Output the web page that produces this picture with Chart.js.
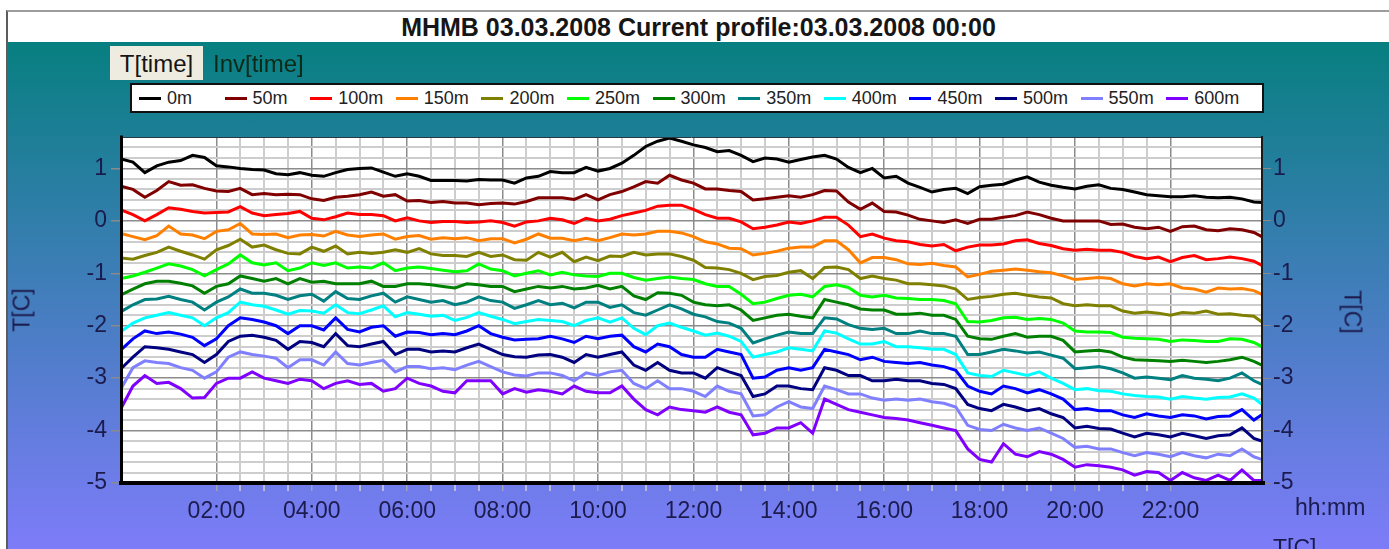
<!DOCTYPE html>
<html>
<head>
<meta charset="utf-8">
<title>MHMB 03.03.2008 Current profile</title>
<script src="https://cdn.jsdelivr.net/npm/chart.js@4.4.1/dist/chart.umd.min.js"></script>
<style>
  html, body { margin: 0; padding: 0; background: #ffffff; }
  body { width: 1389px; height: 549px; position: relative; overflow: hidden;
         font-family: "Liberation Sans", Arial, sans-serif; }
  #panel { position: absolute; left: 6px; top: 10px; right: 0; bottom: 0;
           border-left: 2px solid #5c5c5c; border-top: 2px solid #9c9c9c;
           background: linear-gradient(180deg, #077f80 0px, #077f80 30px, #7e7cf9 539px); }
  #titlebar { position: absolute; left: 0; right: 0; top: 0; height: 30px; background: #ffffff;
              text-align: center; font-weight: bold; font-size: 25px; line-height: 31px; color: #161616; }
  #chart { position: absolute; left: 0; top: 0; }
  .abs { position: absolute; white-space: nowrap; }
  #tabT { left: 110px; top: 46px; width: 93px; height: 34px; background: #eeebe1;
          font-size: 24px; line-height: 36px; text-align: center; color: #151515; }
  #tabInv { left: 213px; top: 46px; height: 34px; font-size: 24px; line-height: 36px; color: #0e2a16; }
  #legend { left: 130px; top: 83px; width: 1130px; height: 26px; background: #ffffff;
            border: 2px solid #111111; }
  .item { position: absolute; top: 0; height: 26px; }
  .item i { position: absolute; left: 0; top: 12px; width: 22px; height: 3px; }
  .item span { position: absolute; left: 28px; top: 0; font-size: 18px; line-height: 27px; color: #222222; }
  .axtitle { font-size: 23px; color: #1b1b4d; }
</style>
</head>
<body>
<div id="panel"><div id="titlebar">MHMB 03.03.2008 Current profile:03.03.2008 00:00</div></div>
<canvas id="chart" width="1389" height="549"></canvas>
<div id="tabT" class="abs">T[time]</div>
<div id="tabInv" class="abs">Inv[time]</div>
<div id="legend" class="abs"></div>
<div class="abs axtitle" style="left:22px; top:310px; transform: translate(-50%,-50%) rotate(-90deg);">T[C]</div>
<div class="abs axtitle" style="left:1352px; top:312px; transform: translate(-50%,-50%) rotate(90deg);">T[C]</div>
<div class="abs axtitle" style="left:1295px; top:494px;">hh:mm</div>
<div class="abs axtitle" style="left:1273px; top:535px;">T[C]</div>

<script>
// Sample times (15-minute steps, last sample 23:55)
const timeLabels = [
  "00:00","00:15","00:30","00:45","01:00","01:15","01:30","01:45",
  "02:00","02:15","02:30","02:45","03:00","03:15","03:30","03:45",
  "04:00","04:15","04:30","04:45","05:00","05:15","05:30","05:45",
  "06:00","06:15","06:30","06:45","07:00","07:15","07:30","07:45",
  "08:00","08:15","08:30","08:45","09:00","09:15","09:30","09:45",
  "10:00","10:15","10:30","10:45","11:00","11:15","11:30","11:45",
  "12:00","12:15","12:30","12:45","13:00","13:15","13:30","13:45",
  "14:00","14:15","14:30","14:45","15:00","15:15","15:30","15:45",
  "16:00","16:15","16:30","16:45","17:00","17:15","17:30","17:45",
  "18:00","18:15","18:30","18:45","19:00","19:15","19:30","19:45",
  "20:00","20:15","20:30","20:45","21:00","21:15","21:30","21:45",
  "22:00","22:15","22:30","22:45","23:00","23:15","23:30","23:45","23:55"
];

const depthNames = ["0m","50m","100m","150m","200m","250m","300m","350m","400m","450m","500m","550m","600m"];
const depthColors = ["#000000","#800000","#ff0000","#ff8000","#808000","#00ff00","#008000",
                     "#008080","#00ffff","#0000ff","#000080","#8080ff","#8000ff"];

// Temperature [C] per height level
const t0m = [
  1.18,1.12,0.92,1.05,1.12,1.15,1.25,1.21, 1.05,1.03,1.00,0.98,0.97,0.90,0.88,0.92,
  0.87,0.85,0.92,0.98,1.00,1.01,0.93,0.85, 0.90,0.85,0.77,0.77,0.77,0.76,0.79,0.78,
  0.78,0.72,0.82,0.85,0.94,0.92,0.92,1.02, 0.95,1.00,1.10,1.25,1.42,1.52,1.58,1.52,
  1.45,1.40,1.32,1.34,1.25,1.13,1.20,1.18, 1.12,1.17,1.22,1.25,1.18,1.02,0.92,1.00,
  0.82,0.85,0.72,0.64,0.55,0.60,0.62,0.52, 0.65,0.68,0.70,0.78,0.84,0.74,0.68,0.64,
  0.61,0.66,0.69,0.62,0.60,0.55,0.50,0.48, 0.46,0.46,0.48,0.45,0.44,0.45,0.42,0.36,0.35
];
const t50m = [
  0.66,0.60,0.45,0.58,0.75,0.68,0.69,0.62, 0.57,0.56,0.62,0.50,0.52,0.50,0.51,0.50,
  0.42,0.39,0.45,0.47,0.50,0.55,0.47,0.50, 0.38,0.39,0.35,0.37,0.34,0.34,0.31,0.33,
  0.34,0.32,0.37,0.44,0.44,0.44,0.41,0.50, 0.40,0.50,0.56,0.65,0.75,0.72,0.87,0.78,
  0.72,0.61,0.61,0.58,0.56,0.40,0.42,0.45, 0.48,0.45,0.50,0.58,0.57,0.36,0.22,0.34,
  0.18,0.17,0.11,0.03,0.00,-0.03,0.02,-0.05, 0.03,0.03,0.07,0.10,0.17,0.12,0.05,0.00,
  0.00,0.00,0.00,-0.07,-0.06,-0.12,-0.15,-0.12, -0.20,-0.11,-0.10,-0.17,-0.19,-0.15,-0.17,-0.22,-0.30
];
const t100m = [
  0.21,0.12,0.00,0.12,0.25,0.22,0.18,0.15, 0.16,0.17,0.27,0.15,0.10,0.12,0.14,0.18,
  0.05,0.02,0.08,0.15,0.12,0.12,0.10,0.00, 0.06,0.00,-0.03,-0.01,-0.01,-0.03,-0.02,0.00,
  -0.03,-0.10,-0.02,0.00,0.05,0.02,-0.05,0.05, 0.00,0.03,0.10,0.15,0.20,0.28,0.30,0.30,
  0.22,0.12,0.05,0.05,-0.02,-0.15,-0.12,-0.08, -0.02,-0.05,0.00,0.07,0.07,-0.08,-0.30,-0.25,
  -0.33,-0.38,-0.40,-0.45,-0.48,-0.45,-0.57,-0.50, -0.46,-0.46,-0.44,-0.38,-0.36,-0.43,-0.47,-0.53,
  -0.56,-0.54,-0.56,-0.56,-0.60,-0.68,-0.72,-0.69, -0.78,-0.70,-0.66,-0.74,-0.72,-0.69,-0.72,-0.77,-0.85
];
const t150m = [
  -0.24,-0.30,-0.36,-0.28,-0.10,-0.25,-0.27,-0.34, -0.20,-0.17,-0.05,-0.25,-0.26,-0.25,-0.32,-0.27,
  -0.26,-0.29,-0.20,-0.27,-0.30,-0.27,-0.25,-0.35, -0.30,-0.28,-0.35,-0.32,-0.34,-0.32,-0.38,-0.34,
  -0.34,-0.42,-0.35,-0.25,-0.33,-0.33,-0.38,-0.33, -0.38,-0.32,-0.25,-0.27,-0.25,-0.20,-0.20,-0.23,
  -0.30,-0.40,-0.44,-0.52,-0.53,-0.65,-0.62,-0.58, -0.52,-0.50,-0.50,-0.38,-0.38,-0.55,-0.80,-0.70,
  -0.70,-0.74,-0.82,-0.83,-0.81,-0.85,-0.88,-1.07, -1.02,-0.96,-0.94,-0.92,-0.94,-0.97,-0.99,-1.05,
  -1.12,-1.10,-1.08,-1.10,-1.20,-1.24,-1.20,-1.22, -1.20,-1.28,-1.30,-1.36,-1.28,-1.30,-1.29,-1.33,-1.40
];
const t200m = [
  -0.71,-0.73,-0.66,-0.60,-0.50,-0.58,-0.65,-0.73, -0.55,-0.47,-0.35,-0.50,-0.46,-0.55,-0.62,-0.63,
  -0.50,-0.58,-0.48,-0.63,-0.60,-0.62,-0.60,-0.55, -0.60,-0.53,-0.63,-0.66,-0.66,-0.68,-0.60,-0.68,
  -0.65,-0.74,-0.75,-0.60,-0.69,-0.60,-0.78,-0.69, -0.76,-0.67,-0.68,-0.60,-0.65,-0.63,-0.63,-0.68,
  -0.75,-0.89,-0.90,-0.93,-1.00,-1.12,-1.06,-1.04, -0.98,-0.95,-1.10,-0.89,-0.88,-0.93,-1.10,-1.05,
  -1.10,-1.13,-1.20,-1.20,-1.22,-1.24,-1.30,-1.50, -1.46,-1.44,-1.40,-1.38,-1.42,-1.45,-1.47,-1.58,
  -1.62,-1.60,-1.62,-1.62,-1.72,-1.76,-1.74,-1.76, -1.80,-1.75,-1.76,-1.72,-1.78,-1.77,-1.80,-1.82,-1.93
];
const t250m = [
  -1.10,-1.05,-0.98,-0.90,-0.82,-0.86,-0.93,-1.05, -0.93,-0.82,-0.65,-0.80,-0.84,-0.80,-0.95,-0.90,
  -0.80,-0.85,-0.80,-0.90,-0.88,-0.90,-0.80,-0.95, -0.90,-0.88,-0.91,-0.94,-0.97,-0.95,-0.82,-0.92,
  -0.95,-1.05,-1.00,-0.95,-1.03,-0.98,-1.03,-1.05, -1.06,-1.00,-1.00,-1.08,-1.13,-1.10,-1.07,-1.10,
  -1.12,-1.20,-1.25,-1.25,-1.40,-1.58,-1.55,-1.48, -1.42,-1.40,-1.45,-1.25,-1.22,-1.27,-1.42,-1.45,
  -1.42,-1.47,-1.48,-1.50,-1.50,-1.52,-1.58,-1.92, -1.93,-1.90,-1.85,-1.84,-1.88,-1.86,-1.88,-1.95,
  -2.10,-2.12,-2.12,-2.13,-2.22,-2.24,-2.25,-2.26, -2.30,-2.27,-2.28,-2.30,-2.30,-2.25,-2.26,-2.32,-2.40
];
const t300m = [
  -1.41,-1.30,-1.20,-1.15,-1.15,-1.19,-1.24,-1.38, -1.25,-1.20,-1.05,-1.10,-1.15,-1.10,-1.20,-1.10,
  -1.17,-1.15,-1.20,-1.20,-1.20,-1.15,-1.25,-1.25, -1.20,-1.20,-1.22,-1.25,-1.28,-1.20,-1.22,-1.25,
  -1.25,-1.35,-1.30,-1.25,-1.28,-1.25,-1.30,-1.28, -1.23,-1.30,-1.25,-1.43,-1.50,-1.37,-1.38,-1.42,
  -1.55,-1.60,-1.62,-1.60,-1.70,-1.90,-1.85,-1.80, -1.78,-1.82,-1.85,-1.50,-1.55,-1.60,-1.68,-1.70,
  -1.70,-1.78,-1.78,-1.76,-1.80,-1.80,-1.88,-2.20, -2.25,-2.26,-2.20,-2.15,-2.22,-2.20,-2.20,-2.28,
  -2.50,-2.48,-2.47,-2.50,-2.60,-2.65,-2.66,-2.67, -2.68,-2.66,-2.68,-2.70,-2.68,-2.65,-2.60,-2.68,-2.75
];
const t350m = [
  -1.73,-1.60,-1.50,-1.49,-1.44,-1.50,-1.55,-1.70, -1.55,-1.45,-1.30,-1.38,-1.38,-1.42,-1.50,-1.43,
  -1.40,-1.53,-1.35,-1.48,-1.50,-1.43,-1.38,-1.55, -1.45,-1.50,-1.55,-1.52,-1.60,-1.55,-1.45,-1.52,
  -1.55,-1.67,-1.60,-1.52,-1.60,-1.57,-1.66,-1.55, -1.55,-1.65,-1.60,-1.75,-1.80,-1.70,-1.60,-1.68,
  -1.78,-1.83,-1.92,-1.95,-2.05,-2.33,-2.25,-2.18, -2.12,-2.15,-2.15,-1.85,-1.87,-1.98,-2.05,-2.07,
  -2.05,-2.15,-2.15,-2.10,-2.15,-2.15,-2.20,-2.55, -2.55,-2.50,-2.45,-2.48,-2.52,-2.50,-2.56,-2.62,
  -2.82,-2.80,-2.78,-2.82,-2.90,-3.00,-2.98,-3.00, -3.03,-2.95,-3.00,-3.02,-3.05,-3.00,-2.90,-3.05,-3.12
];
const t400m = [
  -2.11,-1.95,-1.85,-1.80,-1.75,-1.80,-1.85,-2.00, -1.85,-1.75,-1.55,-1.60,-1.63,-1.70,-1.78,-1.71,
  -1.72,-1.76,-1.60,-1.75,-1.77,-1.70,-1.62,-1.83, -1.75,-1.78,-1.82,-1.80,-1.90,-1.84,-1.75,-1.82,
  -1.88,-1.96,-1.92,-1.88,-1.90,-1.92,-2.00,-1.90, -1.85,-1.93,-1.85,-2.05,-2.17,-2.00,-1.95,-2.03,
  -2.10,-2.18,-2.14,-2.20,-2.30,-2.60,-2.55,-2.50, -2.42,-2.45,-2.48,-2.10,-2.14,-2.25,-2.35,-2.35,
  -2.30,-2.40,-2.40,-2.42,-2.45,-2.45,-2.55,-2.90, -2.95,-2.97,-2.85,-2.90,-2.95,-2.88,-3.00,-3.10,
  -3.22,-3.20,-3.24,-3.25,-3.30,-3.33,-3.35,-3.36, -3.40,-3.35,-3.38,-3.40,-3.37,-3.36,-3.30,-3.38,-3.50
];
const t450m = [
  -2.46,-2.25,-2.10,-2.15,-2.12,-2.16,-2.22,-2.38, -2.25,-2.00,-1.85,-1.88,-1.93,-2.00,-2.15,-2.00,
  -2.00,-2.08,-1.85,-2.07,-2.12,-2.03,-2.00,-2.20, -2.12,-2.13,-2.17,-2.15,-2.17,-2.10,-2.00,-2.15,
  -2.22,-2.27,-2.26,-2.25,-2.20,-2.25,-2.32,-2.20, -2.25,-2.20,-2.18,-2.40,-2.50,-2.35,-2.40,-2.55,
  -2.60,-2.60,-2.45,-2.50,-2.55,-3.00,-2.98,-2.85, -2.80,-2.85,-2.80,-2.45,-2.50,-2.55,-2.65,-2.60,
  -2.68,-2.70,-2.72,-2.70,-2.75,-2.78,-2.85,-3.15, -3.25,-3.30,-3.15,-3.20,-3.28,-3.22,-3.30,-3.40,
  -3.60,-3.58,-3.62,-3.62,-3.70,-3.75,-3.68,-3.72, -3.75,-3.70,-3.72,-3.78,-3.73,-3.72,-3.60,-3.80,-3.70
];
const t500m = [
  -2.82,-2.60,-2.40,-2.42,-2.45,-2.50,-2.55,-2.70, -2.55,-2.30,-2.20,-2.18,-2.22,-2.28,-2.45,-2.30,
  -2.32,-2.40,-2.15,-2.38,-2.40,-2.35,-2.30,-2.55, -2.45,-2.45,-2.50,-2.48,-2.50,-2.42,-2.35,-2.45,
  -2.55,-2.59,-2.60,-2.56,-2.55,-2.60,-2.70,-2.55, -2.60,-2.55,-2.50,-2.75,-2.85,-2.70,-2.85,-2.90,
  -2.90,-3.00,-2.80,-2.88,-2.95,-3.35,-3.30,-3.15, -3.15,-3.20,-3.22,-2.80,-2.85,-2.95,-2.95,-3.05,
  -3.05,-3.02,-3.05,-3.05,-3.10,-3.12,-3.20,-3.50, -3.58,-3.62,-3.50,-3.55,-3.62,-3.58,-3.68,-3.75,
  -3.95,-3.92,-3.96,-3.97,-4.05,-4.12,-4.05,-4.08, -4.12,-4.05,-4.10,-4.15,-4.10,-4.08,-3.95,-4.15,-4.20
];
const t550m = [
  -3.20,-2.80,-2.67,-2.70,-2.72,-2.80,-2.85,-3.00, -2.88,-2.60,-2.50,-2.55,-2.58,-2.62,-2.80,-2.65,
  -2.65,-2.75,-2.50,-2.72,-2.75,-2.70,-2.66,-2.88, -2.78,-2.78,-2.82,-2.80,-2.84,-2.75,-2.68,-2.78,
  -2.88,-2.94,-2.96,-2.90,-2.90,-2.95,-3.05,-2.90, -2.95,-2.88,-2.85,-3.10,-3.20,-3.05,-3.20,-3.20,
  -3.25,-3.35,-3.15,-3.25,-3.30,-3.72,-3.70,-3.55, -3.45,-3.55,-3.58,-3.15,-3.22,-3.30,-3.30,-3.38,
  -3.42,-3.40,-3.42,-3.40,-3.45,-3.48,-3.55,-3.90, -3.98,-4.00,-3.88,-3.95,-4.00,-3.95,-4.05,-4.15,
  -4.32,-4.30,-4.35,-4.35,-4.42,-4.48,-4.42,-4.45, -4.50,-4.42,-4.48,-4.52,-4.45,-4.48,-4.35,-4.50,-4.55
];
const t600m = [
  -3.58,-3.15,-2.95,-3.10,-3.08,-3.20,-3.38,-3.37, -3.10,-3.00,-3.00,-2.88,-3.00,-3.05,-3.10,-3.02,
  -3.05,-3.20,-3.10,-3.05,-3.12,-3.10,-3.25,-3.20, -3.00,-3.10,-3.15,-3.25,-3.28,-3.05,-3.05,-3.05,
  -3.30,-3.20,-3.27,-3.22,-3.25,-3.30,-3.15,-3.25, -3.28,-3.28,-3.15,-3.40,-3.60,-3.70,-3.55,-3.60,
  -3.62,-3.65,-3.55,-3.65,-3.70,-4.08,-4.05,-3.95, -3.95,-3.85,-4.05,-3.40,-3.50,-3.60,-3.65,-3.70,
  -3.75,-3.77,-3.80,-3.85,-3.90,-3.95,-4.00,-4.35, -4.55,-4.60,-4.25,-4.45,-4.50,-4.40,-4.45,-4.55,
  -4.70,-4.65,-4.67,-4.70,-4.75,-4.85,-4.78,-4.80, -4.95,-4.80,-4.90,-4.95,-4.85,-4.95,-4.75,-4.95,-4.95
];

const series = [t0m, t50m, t100m, t150m, t200m, t250m, t300m, t350m, t400m, t450m, t500m, t550m, t600m];

// Time axis in decimal hours
const hours = timeLabels.map(s => { const p = s.split(":"); return Number(p[0]) + Number(p[1]) / 60; });

// Legend row
const legendBox = document.getElementById("legend");
depthNames.forEach((name, i) => {
  const item = document.createElement("div");
  item.className = "item";
  item.style.left = (7 + i * 85.6) + "px";
  item.innerHTML = '<i style="background:' + depthColors[i] + '"></i><span>' + name + '</span>';
  legendBox.appendChild(item);
});

const isMajorY = v => Math.abs(v - Math.round(v)) < 1e-6;
const isMajorX = v => Math.abs(v / 2 - Math.round(v / 2)) < 1e-6;
const tickFont = { family: '"Liberation Sans", Arial, sans-serif', size: 23 };
const tickColor = "#1b1b4d";

function buildYTicks(axis) {
  const t = [];
  for (let k = -25; k <= 7; k++) t.push({ value: k / 5 });
  axis.ticks = t;
}
function buildXTicks(axis) {
  const t = [];
  for (let k = 4; k <= 44; k++) t.push({ value: k / 2 });
  axis.ticks = t;
}
const yLabel = v => isMajorY(v) ? String(Math.round(v) || 0) : "";
const xLabel = v => isMajorX(v) ? String(Math.round(v)).padStart(2, "0") + ":00" : "";

const plotFrame = {
  id: "plotFrame",
  beforeDraw(chart) {
    const a = chart.chartArea, c = chart.ctx;
    c.save();
    c.fillStyle = "#ffffff";
    c.fillRect(a.left, a.top, a.right - a.left, a.bottom - a.top);
    c.restore();
  },
  afterDraw(chart) {
    const a = chart.chartArea, c = chart.ctx;
    c.save();
    c.lineCap = "square";
    c.strokeStyle = "#2a3a44"; c.lineWidth = 1;
    c.beginPath(); c.moveTo(a.left, a.top + 0.5); c.lineTo(a.right, a.top + 0.5); c.stroke();
    c.strokeStyle = "#1a1a1a"; c.lineWidth = 2;
    c.beginPath(); c.moveTo(a.right, a.top); c.lineTo(a.right, a.bottom); c.stroke();
    c.strokeStyle = "#000000"; c.lineWidth = 3;
    c.beginPath(); c.moveTo(a.left + 0.5, a.top); c.lineTo(a.left + 0.5, a.bottom); c.stroke();
    c.lineWidth = 4;
    c.beginPath(); c.moveTo(a.left, a.bottom); c.lineTo(a.right + 1, a.bottom); c.stroke();
    c.restore();
  }
};

new Chart(document.getElementById("chart"), {
  type: "line",
  data: {
    datasets: series.map((vals, i) => ({
      label: depthNames[i],
      data: hours.map((h, j) => ({ x: h, y: vals[j] })),
      borderColor: depthColors[i],
      borderWidth: 3,
      pointRadius: 0,
      tension: 0,
      borderJoinStyle: "miter",
      fill: false
    }))
  },
  options: {
    responsive: false,
    animation: false,
    devicePixelRatio: 1,
    layout: { padding: { top: 137, left: 0, right: 0, bottom: 0 } },
    plugins: { legend: { display: false }, tooltip: { enabled: false }, title: { display: false } },
    scales: {
      x: {
        type: "linear", min: 0, max: 23.92,
        afterBuildTicks: buildXTicks,
        afterFit(s) { s.height = 66; },
        border: { display: false },
        grid: {
          color: c => isMajorX(c.tick.value) ? "#8c8c8c" : "#cdcdcd",
          lineWidth: c => isMajorX(c.tick.value) ? 1.5 : 2,
          tickLength: 8,
          tickColor: c => isMajorX(c.tick.value) ? "#a0a0c0" : "#b8b8e0"
        },
        ticks: { autoSkip: false, maxRotation: 0, padding: 7, font: tickFont, color: tickColor,
                 callback: xLabel }
      },
      y: {
        type: "linear", position: "left", min: -5, max: 1.6,
        afterBuildTicks: buildYTicks,
        afterFit(s) { s.width = 121; },
        border: { display: false },
        grid: {
          color: c => isMajorY(c.tick.value) ? "#8c8c8c" : "#cdcdcd",
          lineWidth: c => isMajorY(c.tick.value) ? 1.5 : 2,
          tickLength: 10,
          tickColor: c => isMajorY(c.tick.value) ? "#8a8a8a" : "rgba(0,0,0,0)"
        },
        ticks: { autoSkip: false, padding: 4, font: tickFont, color: tickColor, callback: yLabel }
      },
      y2: {
        type: "linear", position: "right", min: -5, max: 1.6,
        afterBuildTicks: buildYTicks,
        afterFit(s) { s.width = 127; },
        border: { display: false },
        grid: {
          drawOnChartArea: false,
          tickLength: 9,
          tickColor: c => isMajorY(c.tick.value) ? "#8a8a8a" : "rgba(0,0,0,0)"
        },
        ticks: { autoSkip: false, padding: 2, font: tickFont, color: tickColor, callback: yLabel }
      }
    }
  },
  plugins: [plotFrame]
});
</script>
</body>
</html>
